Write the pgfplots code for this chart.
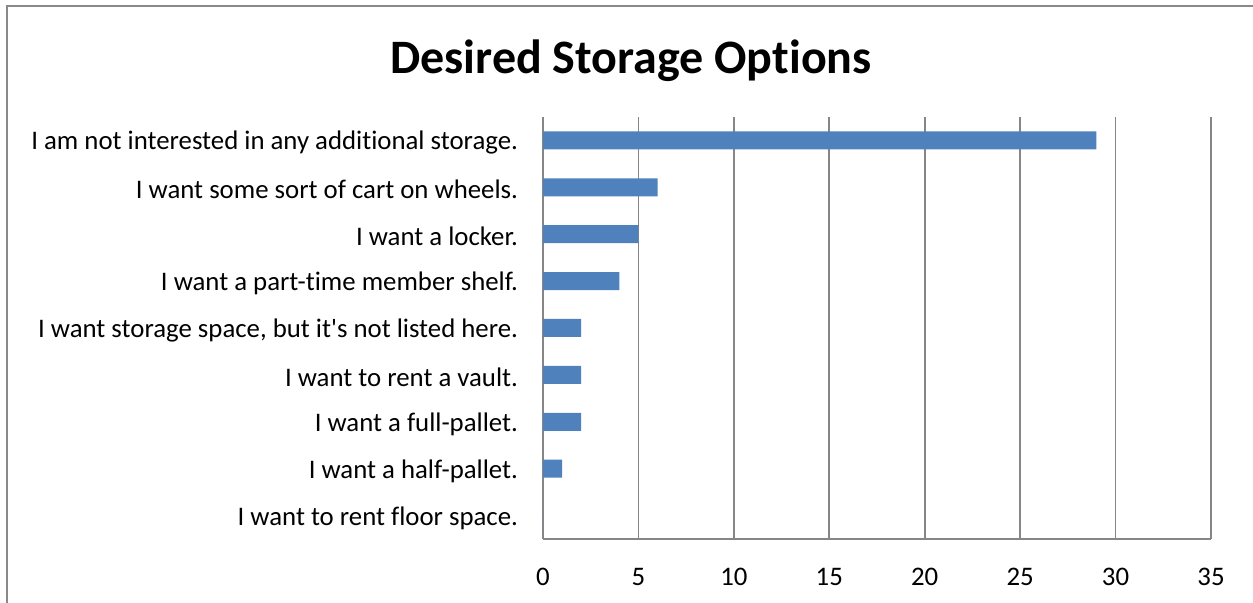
\documentclass[border=0pt]{standalone}
\usepackage{pgfplots}
\pgfplotsset{compat=1.18}
\usepackage{fontspec}
\setmainfont{Carlito}[Ligatures={CommonOff,NoRequired}, RawFeature={-liga;-clig;-calt}]
\definecolor{barblue}{HTML}{4F81BD}
\definecolor{axgray}{HTML}{868686}
\definecolor{framegray}{HTML}{898989}
\begin{document}
\begin{tikzpicture}
\useasboundingbox (0,0) rectangle (626.5bp,301.5bp);
\draw[framegray, line width=1bp] (3.5bp,-2bp) -- (3.5bp,298.5bp) -- (630bp,298.5bp);
\node[font=\fontsize{24bp}{28bp}\selectfont\bfseries] at (315.5bp,271bp) {Desired Storage Options};
\begin{axis}[
  at={(271.5bp,32bp)}, anchor=south west,
  scale only axis,
  width=334bp, height=211bp,
  xbar, bar width=9bp,
  xmin=0, xmax=35,
  ymin=-0.5, ymax=8.5,
  xtick={0,5,...,35},
  ytick={0,...,8},
  yticklabels={I want to rent floor space.,I want a half-pallet.,I want a full-pallet.,I want to rent a vault.,{I want storage space, but it\textquotesingle s not listed here.},I want a part-time member shelf.,I want a locker.,I want some sort of cart on wheels.,I am not interested in any additional storage.},
  axis x line*=bottom, axis y line*=left,
  axis line style={draw=axgray, line width=0.9bp, -},
  xmajorgrids, major grid style={draw=axgray, line width=0.8bp},
  major tick length=0pt,
  tick label style={font=\fontsize{13.4bp}{16bp}\selectfont},
  /pgf/number format/assume math mode=true,
  xticklabel style={yshift=-11bp},
  yticklabel style={xshift=-9bp, yshift=-1.2bp},
  clip=false,
]
\addplot[fill=barblue, draw=none] coordinates {
(0,0) (1,1) (2,2) (2,3) (2,4) (4,5) (5,6) (6,7) (29,8)
};
\end{axis}
\end{tikzpicture}
\end{document}
